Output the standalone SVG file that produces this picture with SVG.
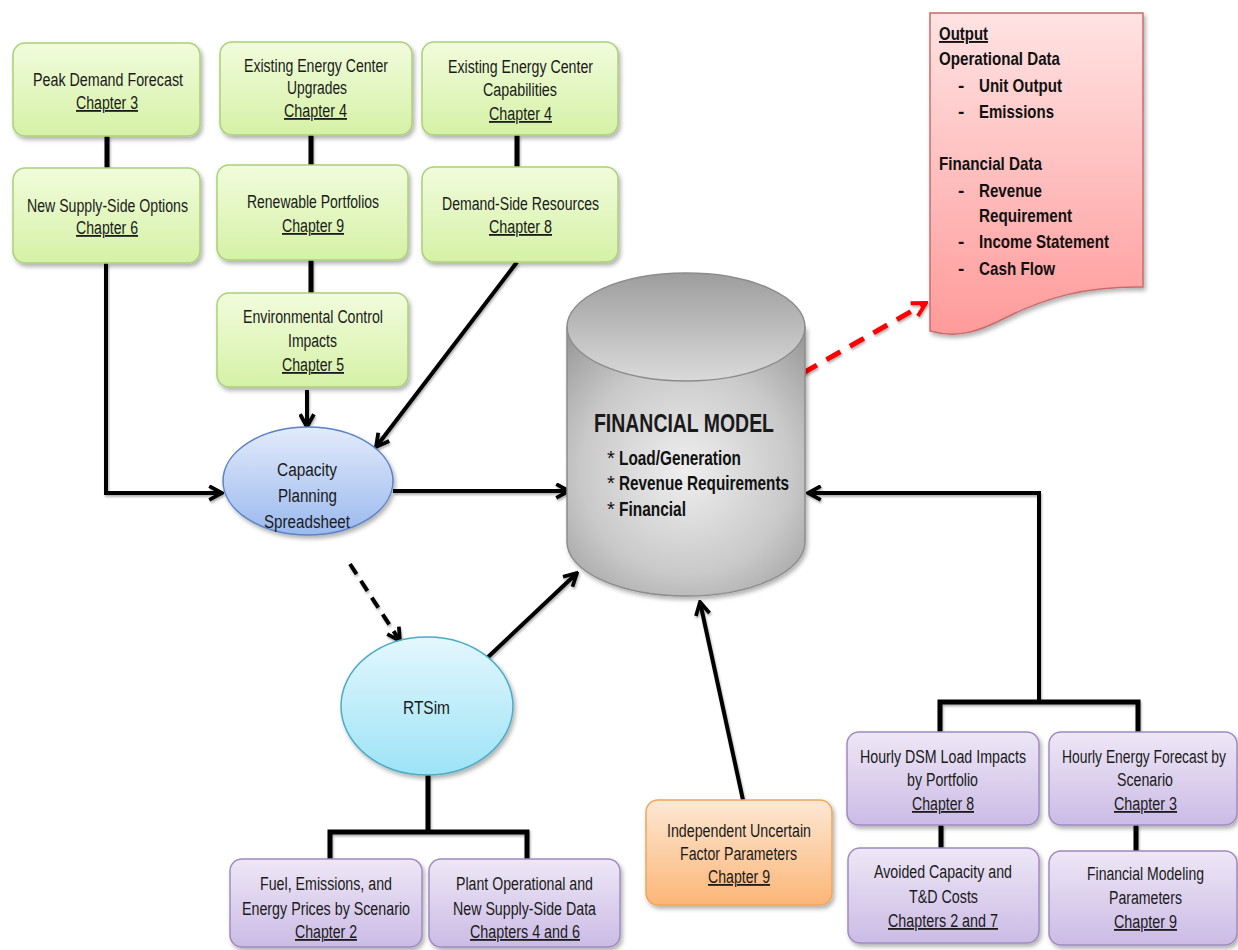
<svg xmlns="http://www.w3.org/2000/svg" width="1238" height="950" viewBox="0 0 1238 950">
<style>
text{font-family:"Liberation Sans Narrow","Liberation Sans",Arial,sans-serif;fill:#1a1a1a}
.t{font-size:18px}
.u{font-size:18px;text-decoration:underline}
.b{font-size:19px;font-weight:bold;fill:#111}
.fm{font-size:20px;font-weight:bold;fill:#111}
.st{font-size:20px;fill:#111}
.gbox{fill:url(#gGreen);stroke:#a9d175;stroke-width:1.5;filter:url(#sh)}
.pbox{fill:url(#gPurple);stroke:#9f8ac4;stroke-width:1.5;filter:url(#sh)}
.obox{fill:url(#gOrange);stroke:#f3a45a;stroke-width:1.5;filter:url(#sh)}
.ln{fill:none;stroke:#000;stroke-width:5;stroke-linejoin:miter}
.ar{fill:none;stroke:#000;stroke-width:4}
</style>
<defs>
<linearGradient id="gGreen" x1="0" y1="0" x2="0" y2="1"><stop offset="0" stop-color="#f1fcdc"/><stop offset="1" stop-color="#d5f1a6"/></linearGradient>
<linearGradient id="gPurple" x1="0" y1="0" x2="0" y2="1"><stop offset="0" stop-color="#eee7f6"/><stop offset="1" stop-color="#cbbbe5"/></linearGradient>
<linearGradient id="gOrange" x1="0" y1="0" x2="0" y2="1"><stop offset="0" stop-color="#fde8d4"/><stop offset="1" stop-color="#fbb677"/></linearGradient>
<linearGradient id="gBlue" x1="0" y1="0" x2="0" y2="1"><stop offset="0" stop-color="#e2ebfb"/><stop offset="1" stop-color="#9bb9ee"/></linearGradient>
<linearGradient id="gCyan" x1="0" y1="0" x2="0" y2="1"><stop offset="0" stop-color="#e3f7fd"/><stop offset="1" stop-color="#9de3f7"/></linearGradient>
<linearGradient id="gRed" x1="0" y1="0" x2="0" y2="1"><stop offset="0" stop-color="#ffe3e3"/><stop offset="1" stop-color="#ff9a9a"/></linearGradient>
<radialGradient id="gCylBody" cx="686" cy="470" r="175" gradientUnits="userSpaceOnUse"><stop offset="0" stop-color="#efefef"/><stop offset="0.6" stop-color="#c9c9c9"/><stop offset="1" stop-color="#9a9a9a"/></radialGradient>
<linearGradient id="gCylTop" x1="0" y1="0" x2="0" y2="1"><stop offset="0" stop-color="#9d9d9d"/><stop offset="1" stop-color="#dadada"/></linearGradient>
<filter id="sh" x="-10%" y="-10%" width="125%" height="130%"><feDropShadow dx="2" dy="3" stdDeviation="2" flood-color="#000" flood-opacity="0.3"/></filter>
<filter id="lsh" x="-10%" y="-10%" width="125%" height="130%"><feDropShadow dx="1" dy="2" stdDeviation="1.2" flood-color="#000" flood-opacity="0.3"/></filter>
<marker id="arr" viewBox="0 0 16 16" markerWidth="17" markerHeight="17" refX="14" refY="8" orient="auto" markerUnits="userSpaceOnUse"><path d="M2,1.5 L14,8 L2,14.5" fill="none" stroke="#000" stroke-width="3.5"/></marker>
<marker id="arrR" viewBox="0 0 16 16" markerWidth="18" markerHeight="18" refX="14" refY="8" orient="auto" markerUnits="userSpaceOnUse"><path d="M2,1.5 L14,8 L2,14.5" fill="none" stroke="#ff0000" stroke-width="3.5"/></marker>
</defs>
<rect width="1238" height="950" fill="#ffffff"/>

<g id="connectors" filter="url(#lsh)">
<line class="ln" x1="107" y1="136" x2="107" y2="168"/>
<line class="ln" x1="311" y1="135" x2="311" y2="165"/>
<line class="ln" x1="517" y1="135" x2="517" y2="167"/>
<line class="ln" x1="311" y1="260" x2="311" y2="293"/>
<line class="ar" x1="307" y1="390" x2="307" y2="427" marker-end="url(#arr)"/>
<line class="ar" x1="517" y1="262" x2="376" y2="447" marker-end="url(#arr)"/>
<path class="ar" d="M106,263 V493 H222" marker-end="url(#arr)"/>
<line class="ar" x1="393" y1="491" x2="569" y2="491" marker-end="url(#arr)"/>
<line class="ar" x1="350" y1="564" x2="400" y2="641" stroke-dasharray="12 8" marker-end="url(#arr)"/>
<line class="ar" x1="487" y1="658" x2="577" y2="573" marker-end="url(#arr)"/>
<line class="ar" x1="743" y1="800" x2="700" y2="602" marker-end="url(#arr)"/>
<path class="ar" d="M1039,702 V493 H808" stroke-width="5" marker-end="url(#arr)"/>
<path class="ln" d="M940,732 V702 H1138 V732"/>
<path class="ln" d="M428,775 V832"/>
<path class="ln" d="M330,860 V832 H527 V860"/>
<line class="ln" x1="941" y1="825" x2="941" y2="848"/>
<line class="ln" x1="1136" y1="825" x2="1136" y2="851"/>
<line x1="803" y1="373" x2="926" y2="303" stroke="#ff0000" stroke-width="5" stroke-dasharray="16 11" marker-end="url(#arrR)"/>
</g>

<g id="peak">
<rect class="gbox" x="13" y="43" width="187" height="93" rx="12"/>
<text class="t" x="33" y="86" textLength="150" lengthAdjust="spacingAndGlyphs">Peak Demand Forecast</text>
<text class="u" x="76" y="109" textLength="62" lengthAdjust="spacingAndGlyphs">Chapter 3</text>
</g>
<g id="newsupply">
<rect class="gbox" x="13" y="168" width="187" height="95" rx="12"/>
<text class="t" x="27" y="212" textLength="161" lengthAdjust="spacingAndGlyphs">New Supply-Side Options</text>
<text class="u" x="76" y="234" textLength="62" lengthAdjust="spacingAndGlyphs">Chapter 6</text>
</g>
<g id="upgrades">
<rect class="gbox" x="220" y="42" width="192" height="93" rx="12"/>
<text class="t" x="244" y="72" textLength="144" lengthAdjust="spacingAndGlyphs">Existing Energy Center</text>
<text class="t" x="287" y="94" textLength="60" lengthAdjust="spacingAndGlyphs">Upgrades</text>
<text class="u" x="284" y="117" textLength="63" lengthAdjust="spacingAndGlyphs">Chapter 4</text>
</g>
<g id="renewable">
<rect class="gbox" x="217" y="165" width="191" height="95" rx="12"/>
<text class="t" x="247" y="208" textLength="132" lengthAdjust="spacingAndGlyphs">Renewable Portfolios</text>
<text class="u" x="282" y="232" textLength="62" lengthAdjust="spacingAndGlyphs">Chapter 9</text>
</g>
<g id="capabilities">
<rect class="gbox" x="422" y="42" width="196" height="93" rx="12"/>
<text class="t" x="448" y="73" textLength="145" lengthAdjust="spacingAndGlyphs">Existing Energy Center</text>
<text class="t" x="483" y="96" textLength="74" lengthAdjust="spacingAndGlyphs">Capabilities</text>
<text class="u" x="489" y="120" textLength="63" lengthAdjust="spacingAndGlyphs">Chapter 4</text>
</g>
<g id="demandside">
<rect class="gbox" x="422" y="167" width="196" height="95" rx="12"/>
<text class="t" x="442" y="210" textLength="157" lengthAdjust="spacingAndGlyphs">Demand-Side Resources</text>
<text class="u" x="489" y="233" textLength="63" lengthAdjust="spacingAndGlyphs">Chapter 8</text>
</g>
<g id="environmental">
<rect class="gbox" x="217" y="293" width="191" height="94" rx="12"/>
<text class="t" x="243" y="323" textLength="140" lengthAdjust="spacingAndGlyphs">Environmental Control</text>
<text class="t" x="288" y="347" textLength="49" lengthAdjust="spacingAndGlyphs">Impacts</text>
<text class="u" x="282" y="371" textLength="62" lengthAdjust="spacingAndGlyphs">Chapter 5</text>
</g>

<g id="capacity">
<ellipse cx="308" cy="481" rx="85" ry="54" fill="url(#gBlue)" stroke="#5b82c6" stroke-width="1.5" filter="url(#sh)"/>
<text class="t" x="277" y="476" textLength="60" lengthAdjust="spacingAndGlyphs">Capacity</text>
<text class="t" x="278" y="502" textLength="59" lengthAdjust="spacingAndGlyphs">Planning</text>
<text class="t" x="264" y="528" textLength="86" lengthAdjust="spacingAndGlyphs">Spreadsheet</text>
</g>

<g id="rtsim">
<ellipse cx="427" cy="706" rx="86" ry="69" fill="url(#gCyan)" stroke="#4bacc6" stroke-width="1.5" filter="url(#sh)"/>
<text class="t" x="403" y="714" textLength="47" lengthAdjust="spacingAndGlyphs">RTSim</text>
</g>

<g id="financialmodel">
<path d="M567,327 V542 A119,54 0 0 0 805,542 V327 Z" fill="url(#gCylBody)" stroke="#8c8c8c" stroke-width="1.5" filter="url(#sh)"/>
<ellipse cx="686" cy="327" rx="119" ry="54" fill="url(#gCylTop)" stroke="#8c8c8c" stroke-width="1.5"/>
<text x="594" y="432" font-size="25" font-weight="bold" textLength="180" lengthAdjust="spacingAndGlyphs">FINANCIAL MODEL</text>
<text class="st" x="607" y="465">*</text>
<text class="fm" x="619" y="465" textLength="122" lengthAdjust="spacingAndGlyphs">Load/Generation</text>
<text class="st" x="607" y="490">*</text>
<text class="fm" x="619" y="490" textLength="170" lengthAdjust="spacingAndGlyphs">Revenue Requirements</text>
<text class="st" x="607" y="516">*</text>
<text class="fm" x="619" y="516" textLength="67" lengthAdjust="spacingAndGlyphs">Financial</text>
</g>

<g id="output">
<path d="M930,13 H1143 V287 C1085,286 1045,298 1005,318 C980,331 958,339 930,331 Z" fill="url(#gRed)" stroke="#c96b6b" stroke-width="1.5" filter="url(#sh)"/>
<text class="b" x="939" y="40" text-decoration="underline" textLength="49" lengthAdjust="spacingAndGlyphs">Output</text>
<text class="b" x="939" y="65" textLength="121" lengthAdjust="spacingAndGlyphs">Operational Data</text>
<text class="b" x="958" y="92">-</text>
<text class="b" x="979" y="92" textLength="83" lengthAdjust="spacingAndGlyphs">Unit Output</text>
<text class="b" x="958" y="118">-</text>
<text class="b" x="979" y="118" textLength="75" lengthAdjust="spacingAndGlyphs">Emissions</text>
<text class="b" x="939" y="170" textLength="103" lengthAdjust="spacingAndGlyphs">Financial Data</text>
<text class="b" x="958" y="197">-</text>
<text class="b" x="979" y="197" textLength="63" lengthAdjust="spacingAndGlyphs">Revenue</text>
<text class="b" x="979" y="222" textLength="93" lengthAdjust="spacingAndGlyphs">Requirement</text>
<text class="b" x="958" y="248">-</text>
<text class="b" x="979" y="248" textLength="130" lengthAdjust="spacingAndGlyphs">Income Statement</text>
<text class="b" x="958" y="275">-</text>
<text class="b" x="979" y="275" textLength="76" lengthAdjust="spacingAndGlyphs">Cash Flow</text>
</g>

<g id="fuel">
<rect class="pbox" x="230" y="859" width="192" height="88" rx="12"/>
<text class="t" x="260" y="890" textLength="132" lengthAdjust="spacingAndGlyphs">Fuel, Emissions, and</text>
<text class="t" x="242" y="915" textLength="168" lengthAdjust="spacingAndGlyphs">Energy Prices by Scenario</text>
<text class="u" x="295" y="938" textLength="62" lengthAdjust="spacingAndGlyphs">Chapter 2</text>
</g>
<g id="plant">
<rect class="pbox" x="429" y="859" width="191" height="88" rx="12"/>
<text class="t" x="456" y="890" textLength="137" lengthAdjust="spacingAndGlyphs">Plant Operational and</text>
<text class="t" x="453" y="915" textLength="143" lengthAdjust="spacingAndGlyphs">New Supply-Side Data</text>
<text class="u" x="470" y="938" textLength="110" lengthAdjust="spacingAndGlyphs">Chapters 4 and 6</text>
</g>
<g id="independent">
<rect class="obox" x="646" y="800" width="186" height="105" rx="12"/>
<text class="t" x="667" y="837" textLength="144" lengthAdjust="spacingAndGlyphs">Independent Uncertain</text>
<text class="t" x="680" y="860" textLength="117" lengthAdjust="spacingAndGlyphs">Factor Parameters</text>
<text class="u" x="708" y="883" textLength="62" lengthAdjust="spacingAndGlyphs">Chapter 9</text>
</g>
<g id="dsm">
<rect class="pbox" x="847" y="732" width="192" height="93" rx="12"/>
<text class="t" x="860" y="763" textLength="166" lengthAdjust="spacingAndGlyphs">Hourly DSM Load Impacts</text>
<text class="t" x="907" y="786" textLength="71" lengthAdjust="spacingAndGlyphs">by Portfolio</text>
<text class="u" x="912" y="810" textLength="62" lengthAdjust="spacingAndGlyphs">Chapter 8</text>
</g>
<g id="energyforecast">
<rect class="pbox" x="1049" y="732" width="188" height="93" rx="12"/>
<text class="t" x="1062" y="763" textLength="164" lengthAdjust="spacingAndGlyphs">Hourly Energy Forecast by</text>
<text class="t" x="1117" y="786" textLength="56" lengthAdjust="spacingAndGlyphs">Scenario</text>
<text class="u" x="1114" y="810" textLength="63" lengthAdjust="spacingAndGlyphs">Chapter 3</text>
</g>
<g id="avoided">
<rect class="pbox" x="848" y="848" width="191" height="95" rx="12"/>
<text class="t" x="874" y="878" textLength="138" lengthAdjust="spacingAndGlyphs">Avoided Capacity and</text>
<text class="t" x="909" y="903" textLength="69" lengthAdjust="spacingAndGlyphs">T&amp;D Costs</text>
<text class="u" x="888" y="927" textLength="110" lengthAdjust="spacingAndGlyphs">Chapters 2 and 7</text>
</g>
<g id="finmodeling">
<rect class="pbox" x="1049" y="851" width="188" height="94" rx="12"/>
<text class="t" x="1087" y="880" textLength="117" lengthAdjust="spacingAndGlyphs">Financial Modeling</text>
<text class="t" x="1109" y="904" textLength="73" lengthAdjust="spacingAndGlyphs">Parameters</text>
<text class="u" x="1114" y="928" textLength="63" lengthAdjust="spacingAndGlyphs">Chapter 9</text>
</g>
</svg>
